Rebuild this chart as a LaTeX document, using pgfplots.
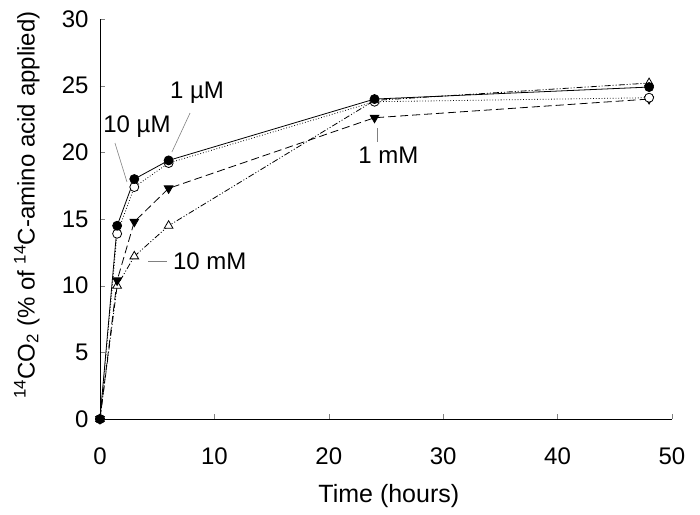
\documentclass[border=0pt]{standalone}
\usepackage{pgfplots}
\pgfplotsset{compat=1.18}
\usepackage{fontspec}
\setmainfont{Liberation Sans}

\begin{document}
\begin{tikzpicture}
\begin{axis}[
    scale only axis,
    width=572pt, height=400pt,
    xmin=0, xmax=50, ymin=0, ymax=30,
    axis lines=left,
    axis line style={-},
    tick align=inside,
    major tick length=5pt,
    xtick={0,10,...,50},
    ytick={0,5,...,30},
    tick label style={font=\fontsize{24}{28}\selectfont},
    /pgf/number format/assume math mode=true,
    xticklabel style={yshift=-25pt},
    yticklabel style={xshift=-8pt},
    xlabel={Time (hours)},
    ylabel={\textsuperscript{14}CO\textsubscript{2} (\% of \textsuperscript{14}C-amino acid applied)},
    x label style={font=\fontsize{25}{29}\selectfont,
        at={(axis description cs:0.505,-0.1925)}, anchor=center},
    y label style={font=\fontsize{24}{28}\selectfont,
        at={(axis description cs:-0.128,0.535)}, anchor=center},
    clip=false,
    every axis plot/.append style={line width=0.8pt},
]
% 10 mM, open up-triangles, dash-dot-dot
\addplot[black, dash pattern=on 6pt off 2pt on 1pt off 2pt on 1pt off 2pt,
    mark=triangle*, mark size=5pt, mark options={solid, fill=white}] coordinates {
    (0,0) (1.5,10.0) (3,12.2) (6,14.5) (24,23.9) (48,25.2)
};
% 1 mM, filled down-triangles, dashed
\addplot[black, dash pattern=on 8pt off 4pt,
    mark=triangle*, mark size=5pt, mark options={solid, fill=black, rotate=180}] coordinates {
    (0,0) (1.5,10.4) (3,14.8) (6,17.3) (24,22.6) (48,24.0)
};
% 10 uM, open circles, dotted
\addplot[black, dotted,
    mark=*, mark size=4.5pt, mark options={solid, fill=white}] coordinates {
    (0,0) (1.5,13.9) (3,17.4) (6,19.2) (24,23.8) (48,24.1)
};
% 1 uM, filled circles, solid
\addplot[black,
    mark=*, mark size=4.5pt, mark options={solid, fill=black}] coordinates {
    (0,0) (1.5,14.5) (3,18.0) (6,19.4) (24,24.0) (48,24.9)
};

\def\lab{\fontsize{24}{28}\selectfont}
\node[font=\lab] at (axis cs:8.48,24.5) {1 µM};
\draw[gray, line width=0.6pt] (axis cs:7.87,22.95) -- (axis cs:6.29,20.03);
\node[font=\lab] at (axis cs:3.23,21.9) {10 µM};
\draw[gray, line width=0.6pt] (axis cs:1.31,20.7) -- (axis cs:2.36,17.78);
\node[font=\lab] at (axis cs:9.6,11.8) {10 mM};
\draw[gray, line width=0.6pt] (axis cs:4.2,11.8) -- (axis cs:5.86,11.8);
\node[font=\lab] at (axis cs:25.2,19.8) {1 mM};
\draw[gray, line width=0.6pt] (axis cs:24.2,21.8) -- (axis cs:24.2,20.8);

\coordinate (bl) at (axis cs:-8.74,-7.13);
\coordinate (tr) at (axis cs:52.45,31.43);
\end{axis}
\path (bl) rectangle (tr);
\end{tikzpicture}
\end{document}
